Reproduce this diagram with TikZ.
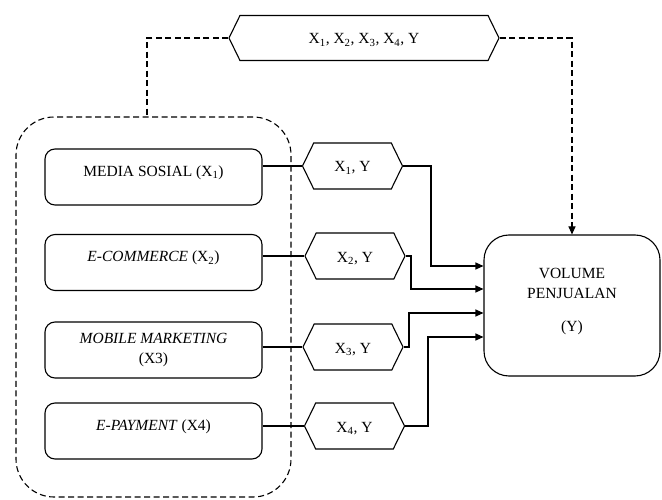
\documentclass[tikz,border=0pt]{standalone}
\usepackage{fontspec}
\setmainfont{Liberation Serif}
\usetikzlibrary{shapes.symbols,arrows.meta}

\begin{document}
\begin{tikzpicture}[x=1pt,y=-1pt,
    font=\fontsize{15.5}{20}\selectfont,
    varBox/.style={draw,line width=1.1pt,rounded corners=10pt,minimum width=217pt,minimum height=56pt,align=center,inner sep=2pt},
    liftText/.style={text depth=12pt},
    pairHex/.style={draw,line width=1.1pt,fill=white,signal,signal to=east and west,signal pointer angle=128,minimum width=100pt,minimum height=46pt,inner sep=0pt,text height=15pt,text depth=3pt},
    link/.style={line width=1.1pt},
    dashLink/.style={line width=1.1pt,dash pattern=on 6pt off 3.5pt},
    tip/.style={-{Triangle[length=8pt,width=7pt]}}]
    \useasboundingbox (0,0) rectangle (662,500);

    % Define the positions of the nodes
    \coordinate (topPos) at (364,38);
    \coordinate (groupPos) at (153.5,307);
    \coordinate (mediaPos) at (153.5,177);
    \coordinate (ecomPos) at (153.5,262.5);
    \coordinate (mobilePos) at (153.5,350);
    \coordinate (payPos) at (153.5,431);
    \coordinate (hex1Pos) at (352.5,166);
    \coordinate (hex2Pos) at (355,256);
    \coordinate (hex3Pos) at (353,347);
    \coordinate (hex4Pos) at (354.5,426);
    \coordinate (volPos) at (572,305.5);

    % Draw the dashed group round the variables
    \node[draw,line width=1.1pt,dash pattern=on 6pt off 3.5pt,rounded corners=38pt,minimum width=275pt,minimum height=380pt] (groupBox) at (groupPos) {};

    % Draw the variables
    \node[varBox,liftText] (media) at (mediaPos) {MEDIA SOSIAL (X\textsubscript{1})};
    \node[varBox,liftText] (ecom) at (ecomPos) {\textit{E-COMMERCE} (X\textsubscript{2})};
    \node[varBox] (mobile) at (mobilePos) {\textit{MOBILE MARKETING}\\(X3)};
    \node[varBox,liftText] (pay) at (payPos) {\textit{E-PAYMENT} (X4)};
    \node[varBox,liftText,minimum width=176pt,minimum height=141pt,rounded corners=25pt] (vol) at (volPos) {VOLUME\\PENJUALAN\\[13pt](Y)};

    % Draw the pairs
    \node[pairHex,minimum width=270pt,minimum height=45pt] (top) at (topPos) {X\textsubscript{1}, X\textsubscript{2}, X\textsubscript{3}, X\textsubscript{4}, Y};
    \node[pairHex] (hex1) at (hex1Pos) {X\textsubscript{1}, Y};
    \node[pairHex] (hex2) at (hex2Pos) {X\textsubscript{2}, Y};
    \node[pairHex] (hex3) at (hex3Pos) {X\textsubscript{3}, Y};
    \node[pairHex] (hex4) at (hex4Pos) {X\textsubscript{4}, Y};

    % Bends and entry points of the arrows
    \coordinate (bend1) at (431,0);
    \coordinate (bend2) at (411,0);
    \coordinate (bend3) at (409,0);
    \coordinate (bend4) at (428,0);
    \coordinate (in1) at ([yshift=39.5pt]vol.west);
    \coordinate (in2) at ([yshift=16.5pt]vol.west);
    \coordinate (in3) at ([yshift=-7.5pt]vol.west);
    \coordinate (in4) at ([yshift=-31.5pt]vol.west);

    % Draw the lines
    \draw[link] (media.east |- hex1.west) -- (hex1.west);
    \draw[link] (ecom.east |- hex2.west) -- (hex2.west);
    \draw[link] (mobile.east |- hex3.west) -- (hex3.west);
    \draw[link] (pay.east |- hex4.west) -- (hex4.west);
    \draw[link,tip] (hex1.east) -- (hex1.east -| bend1) |- (in1);
    \draw[link,tip] (hex2.east) -- (hex2.east -| bend2) |- (in2);
    \draw[link,tip] (hex3.east) -- (hex3.east -| bend3) |- (in3);
    \draw[link,tip] (hex4.east) -- (hex4.east -| bend4) |- (in4);
    \draw[dashLink] (top.west) -| ([xshift=-6.5pt]groupBox.north);
    \draw[dashLink,tip] (top.east) -| (vol.north);
\end{tikzpicture}
\end{document}
